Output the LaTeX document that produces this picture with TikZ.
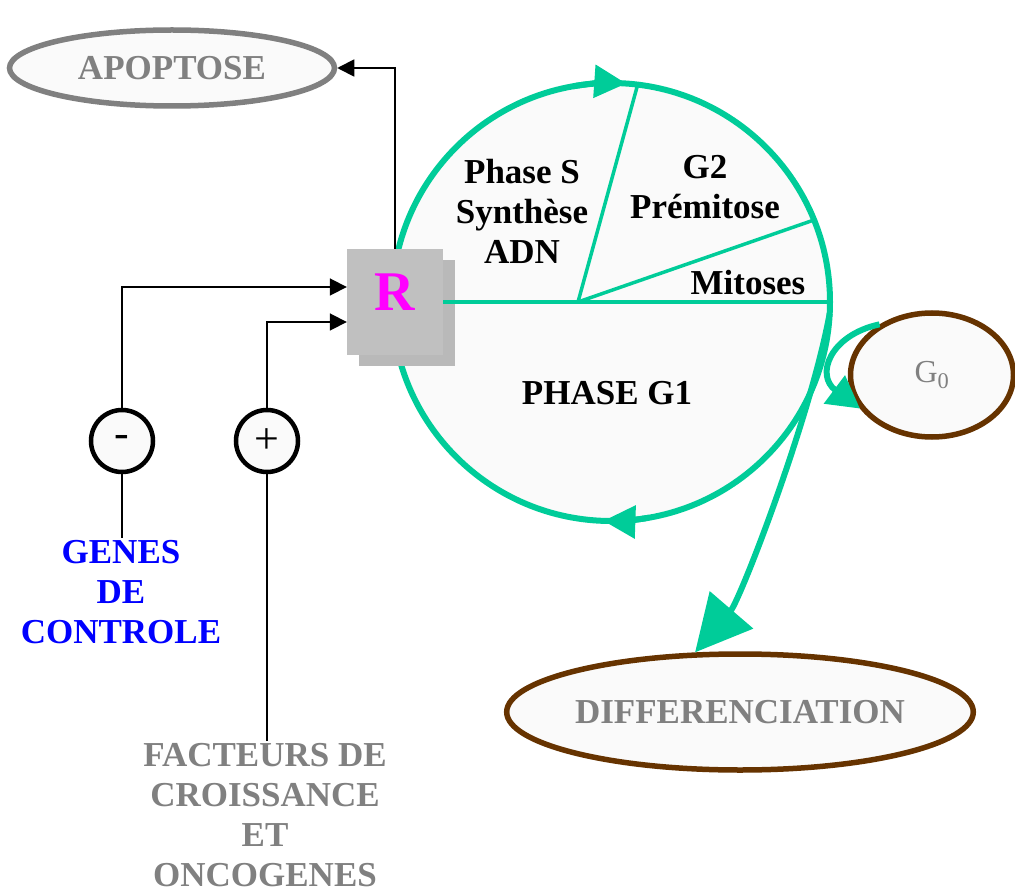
\documentclass[tikz,border=0pt]{standalone}
\usepackage{fontspec}
\setmainfont{Liberation Serif}
\usetikzlibrary{shapes.geometric,arrows.meta,shadows}
\definecolor{cyclegreen}{RGB}{0,204,153}
\definecolor{cellbrown}{RGB}{102,51,0}
\definecolor{paper}{RGB}{250,250,250}
\definecolor{boxgray}{RGB}{192,192,192}
\definecolor{rmagenta}{RGB}{255,0,255}
\begin{document}
\begin{tikzpicture}[x=1pt,y=-1pt,
  bigtext/.style={font=\fontsize{35}{40}\selectfont\bfseries, align=center, inner sep=2pt},
  link/.style={line width=1.8pt, -{Triangle[length=17pt,width=17pt]}},
  sign/.style={circle, draw, line width=4.5pt, fill=paper, minimum size=62pt, inner sep=0pt, font=\fontsize{44}{44}\selectfont},
  outcome/.style={ellipse, line width=5.5pt, fill=paper, inner sep=0pt, font=\fontsize{35}{40}\selectfont\bfseries, text=gray},
  flow/.style={cyclegreen, line width=6pt}]
  \useasboundingbox (0,0) rectangle (1015,893);
  \node[circle, draw=cyclegreen, fill=paper, line width=6pt, minimum size=438pt, inner sep=0pt, outer sep=0pt] (cycle) at (611,302) {};
  \coordinate (hub) at (578,302);
  \draw[cyclegreen, line width=3.5pt] (hub) -- (cycle.83);
  \draw[cyclegreen, line width=3.5pt] (hub) -- (cycle.22);
  \draw[flow, -{Triangle[length=32pt,width=32pt]}] (cycle.100) arc[start angle=-100, end angle=-86, radius=219];
  \draw[flow, -{Triangle[length=32pt,width=32pt]}] (cycle.-80) arc[start angle=80, end angle=92, radius=219];
  \node[bigtext] (phaseS) at (522,211) {Phase S\\Synthèse\\ADN};
  \node[bigtext] (g2) at (705,187) {G2\\Prémitose};
  \node[bigtext] (mitoses) at (748,283) {Mitoses};
  \node[bigtext] (g1) at (607,393) {PHASE G1};
  \node[fill=boxgray, minimum width=96pt, minimum height=106pt, inner sep=0pt, text depth=20pt,
        text=rmagenta, font=\fontsize{56}{56}\selectfont\bfseries,
        drop shadow={shadow xshift=12pt, shadow yshift=-11pt, fill=gray!55, opacity=1}] (R) at (395,302) {R};
  \draw[cyclegreen, line width=3.5pt] (R.east) -- (cycle.east);
  \node[outcome, draw=gray, minimum width=325pt, minimum height=76pt] (apoptose) at (172,68) {APOPTOSE};
  \node[outcome, draw=cellbrown, minimum width=163pt, minimum height=124pt,
        font=\fontsize{32}{32}\selectfont] (G0) at (932,375) {G\textsubscript{0}};
  \node[outcome, draw=cellbrown, minimum width=450pt, minimum height=116pt] (diff) at (740,712) {DIFFERENCIATION};
  \draw[flow, -{Triangle[length=32pt,width=34pt]}] (G0.136) .. controls (830,335) and (815,375) .. (G0.205);
  \draw[flow, -{Triangle[length=56pt,width=56pt]}] (cycle.-3) .. controls (810,420) and (740,600) .. (diff.127);
  \node[sign] (minus) at (122,441) {-};
  \node[sign] (plus) at (267,441) {+};
  \node[bigtext, text=blue] (genes) at (121,592) {GENES\\DE\\CONTROLE};
  \node[bigtext, text=gray] (facteurs) at (265,815) {FACTEURS DE\\CROISSANCE\\ET\\ONCOGENES};
  \draw[link] (R.north) |- (apoptose.east);
  \draw[link] (minus.north) |- ([yshift=15pt]R.west);
  \draw[link] (plus.north) |- ([yshift=-20pt]R.west);
  \draw[line width=1.8pt] (minus.south) -- (minus.south |- genes.north);
  \draw[line width=1.8pt] (plus.south) -- (plus.south |- facteurs.north);
\end{tikzpicture}
\end{document}
